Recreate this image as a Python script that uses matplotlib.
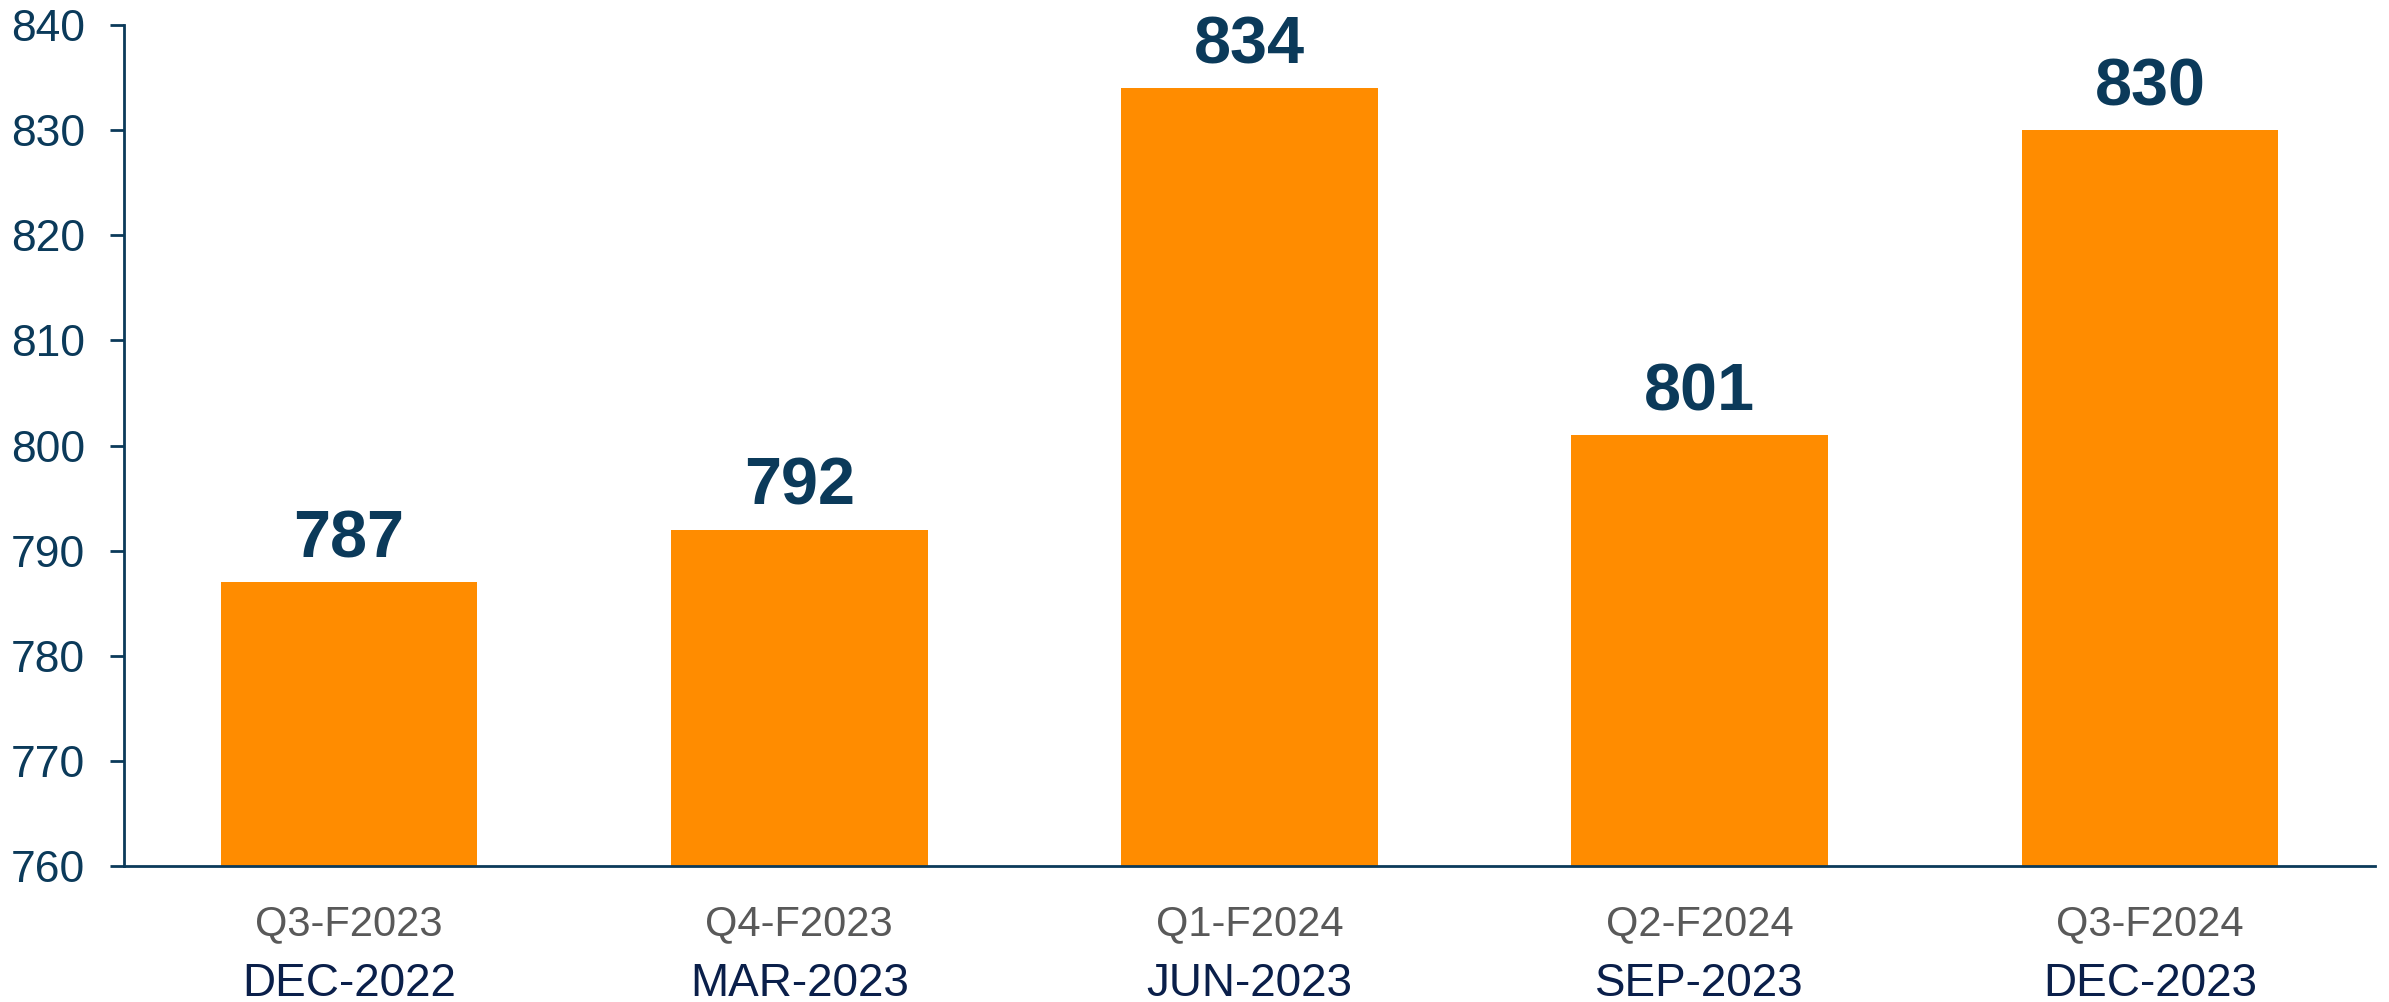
import matplotlib
matplotlib.use("Agg")
import matplotlib.pyplot as plt

quarters = ["Q3-F2023", "Q4-F2023", "Q1-F2024", "Q2-F2024", "Q3-F2024"]
months = ["DEC-2022", "MAR-2023", "JUN-2023", "SEP-2023", "DEC-2023"]
values = [787, 792, 834, 801, 830]

navy = "#0b3a5a"
orange = "#ff8c00"

plt.rcParams['font.family'] = ['Liberation Sans', 'DejaVu Sans']

fig = plt.figure(figsize=(23.89, 10.02), dpi=100)
ax = fig.add_axes([124/2389, 136/1002, (2375-124)/2389, 841/1002])

x = range(len(values))
ax.bar(x, [v - 760 for v in values], bottom=760, width=0.57, color=orange, zorder=2)

for i, v in enumerate(values):
    ax.annotate(str(v), (i, v), xytext=(0, 30), textcoords="offset points",
                ha="center", va="center", fontsize=48, fontweight="bold", color=navy)
    ax.text(i, -0.069, quarters[i], transform=ax.get_xaxis_transform(),
            ha="center", va="center", fontsize=30, color="#595959")
    ax.text(i, -0.140, months[i], transform=ax.get_xaxis_transform(),
            ha="center", va="center", fontsize=33, color="#0a1f4a")

ax.set_xlim(-0.5, len(values) - 0.5)
ax.set_ylim(760, 840)
ax.set_yticks(range(760, 841, 10))
ax.set_xticks([])
ax.tick_params(axis="y", length=10, width=2, color=navy, labelsize=32,
               labelcolor=navy, pad=18)
for s in ["top", "right"]:
    ax.spines[s].set_visible(False)
for s in ["left", "bottom"]:
    ax.spines[s].set_color(navy)
    ax.spines[s].set_linewidth(2)

fig.savefig("out.png", dpi=100)
